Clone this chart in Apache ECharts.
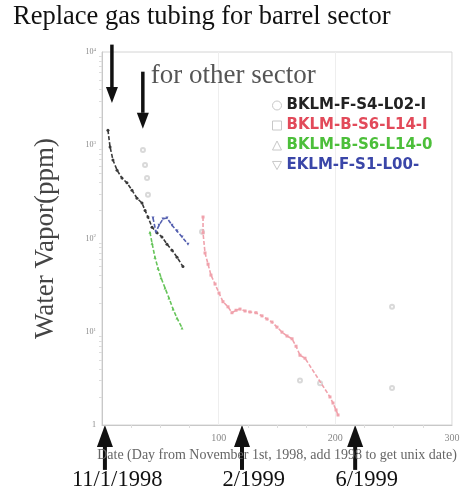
<!DOCTYPE html>
<html><head><meta charset="utf-8">
<script src="https://cdn.jsdelivr.net/npm/echarts@6/dist/echarts.min.js"></script>
<style>html,body{margin:0;padding:0;background:#fff}#c{width:464px;height:494px}</style>
</head><body><div id="c"></div>
<script>
// Data: [day from Nov 1 1998, water vapor ppm]
const seriesNames = ['BKLM-F-S4-L02-I', 'BKLM-B-S6-L14-I', 'BKLM-B-S6-L14-0', 'EKLM-F-S1-L00-'];
const blackF_S4 = [[5.1,1450],[6.9,960],[9.4,695],[12.9,540],[17.1,445],[21.4,395],[25.7,330],[30,270],[34.3,240],[36.9,200],[39.4,170],[42.9,132],[47.1,115],[51.4,104],[55.7,87],[60,75],[64.3,63],[69.4,50]];
const redB_S6_I = [[86.6,170],[86.6,115],[88.3,70],[90.9,53],[93.4,40.5],[96.9,32.5],[100.3,26],[103.7,21],[108,18.5],[111.4,16],[114.9,17],[118.3,17.5],[122.6,16.7],[126.9,16.3],[132,16],[137.1,14.8],[141.4,13.7],[145.7,12.7],[150,11.2],[154.3,9.9],[158.6,9.0],[162.9,8.4],[166.3,7.0],[169.7,5.6],[174,5.2],[195.4,2.0],[198,1.72],[200.6,1.45],[202.3,1.28]];
const greenB_S6_0 = [[41.1,117],[42.9,89],[45.4,63],[48,48],[50.6,38],[54,29.5],[57.4,23],[60.9,17.5],[64.3,14],[68.6,11]];
const blueE_S1 = [[43.7,166],[46.3,117],[48.9,139],[52.3,162],[55.7,166],[60,139],[64.3,120],[68.6,104],[73.7,87]];
const otherPoints = [[35.1,890],[36.9,615],[38.6,445],[39.4,295],[85.7,118],[169.7,3.0],[186.9,2.8],[248.6,18.5],[248.6,2.5]];
const xTicks = [0, 100, 200, 300];
const yTicks = [1, 10, 100, 1000, 10000];
// annotation arrows: [day, fromValue, toValue]
const topArrows = [[8.5, 12000, 2830], [35, 6150, 1500]];
const bottomArrows = [[2.5, 0.33, 1.0], [120, 0.33, 1.0], [217, 0.33, 1.0]];
const bottomLabels = [['11/1/1998', 13], ['2/1999', 130], ['6/1999', 227]];

const colors = ['#3a3a3a', '#f0a2ac', '#66c45a', '#5560b0'];
const textColors = ['#222', '#e24a5a', '#4cbf3a', '#3a46a8'];
const symbols = ['circle', 'rect', 'triangle', 'path://M0,0 L10,0 L5,9 Z'];
const dataSets = [blackF_S4, redB_S6_I, greenB_S6_0, blueE_S1];

const chart = echarts.init(document.getElementById('c'));
const option = {
  animation: false,
  backgroundColor: '#fff',
  grid: {left: 102, right: 12, top: 52, bottom: 69, show: true, borderColor: '#d4d4d4', borderWidth: 1},
  xAxis: {
    type: 'value', min: 0, max: 300, interval: 100,
    name: 'Date (Day from November 1st, 1998, add 1998 to get unix date)',
    nameLocation: 'middle', nameGap: 21,
    nameTextStyle: {fontFamily: 'Liberation Serif', fontSize: 14, color: '#666'},
    axisLine: {lineStyle: {color: '#c8c8c8'}},
    axisTick: {show: false},
    minorTick: {show: true, splitNumber: 4, length: 3, lineStyle: {color: '#ddd'}},
    splitLine: {show: true, lineStyle: {color: '#eee'}},
    axisLabel: {fontFamily: 'Liberation Serif', fontSize: 10, color: '#888', margin: 8,
      formatter: v => v === 0 ? '' : String(v)}
  },
  yAxis: {
    type: 'log', logBase: 10, min: 1, max: 10000,
    name: 'Water Vapor(ppm)', nameLocation: 'middle', nameGap: 43,
    nameTextStyle: {fontFamily: 'Liberation Serif', fontSize: 27, color: '#444'},
    axisLine: {show: true, lineStyle: {color: '#c8c8c8'}},
    axisTick: {show: false},
    minorTick: {show: true, splitNumber: 9, length: 3, lineStyle: {color: '#ddd'}},
    splitLine: {show: false},
    axisLabel: {fontFamily: 'Liberation Serif', fontSize: 8, color: '#888', margin: 6,
      formatter: v => v <= 1 ? '1' : '10{s|' + Math.round(Math.log10(v)) + '}',
      rich: {s: {fontSize: 5, verticalAlign: 'top', color: '#888', padding: [0,0,5,0]}}}
  },
  legend: {
    orient: 'vertical', left: 267, top: 93, itemGap: 5, itemWidth: 9, itemHeight: 9,
    textStyle: {fontFamily: 'DejaVu Sans', fontWeight: 'bold', fontSize: 15},
    data: seriesNames.map((n, i) => ({name: n, icon: symbols[i],
      itemStyle: {color: 'rgba(0,0,0,0)', borderColor: '#c8c8c8', borderWidth: 1},
      textStyle: {color: textColors[i]}}))
  },
  series: dataSets.map((d, i) => ({
    name: seriesNames[i], type: 'line', data: d,
    symbol: symbols[i], symbolSize: 3, showSymbol: true,
    itemStyle: {color: colors[i]},
    lineStyle: {color: colors[i], width: 1.6, type: [4, 2]}
  })).concat([{
    name: 'other', type: 'scatter', data: otherPoints, symbol: 'emptyCircle', symbolSize: 4,
    itemStyle: {color: '#d0d0d0'}
  }])
};
chart.setOption(option);

const toPx = (x, y) => chart.convertToPixel({gridIndex: 0}, [x, y]);
const g = [];
g.push({type: 'text', left: 13, top: 4, style: {text: 'Replace gas tubing for barrel sector',
  font: '26.5px "Liberation Serif"', fill: '#111'}});
function arrow(x, v0, v1, head, hw, sw) {
  const p0 = toPx(x, v0), p1 = toPx(x, v1);
  const dir = p1[1] > p0[1] ? 1 : -1;
  const base = p1[1] - dir * head;
  g.push({type: 'line', shape: {x1: p0[0], y1: p0[1], x2: p1[0], y2: base}, style: {stroke: '#111', lineWidth: sw}});
  g.push({type: 'polygon', shape: {points: [[p1[0] - hw, base], [p1[0] + hw, base], [p1[0], p1[1]]]}, style: {fill: '#111'}});
}
topArrows.forEach(a => arrow(a[0], a[1], a[2], 16, 6, 3.5));
bottomArrows.forEach(a => arrow(a[0], a[1], a[2], 22, 8, 4));
const op = toPx(35, 6150);
g.push({type: 'text', x: op[0] + 8, y: op[1] + 4, style: {text: 'for other sector', font: '27px "Liberation Serif"', fill: '#555', textVerticalAlign: 'middle'}});
bottomLabels.forEach(l => {
  const p = toPx(l[1], 1);
  g.push({type: 'text', x: p[0], y: 480, style: {text: l[0], font: '22.5px "Liberation Serif"', fill: '#111', textAlign: 'center', textVerticalAlign: 'middle'}});
});
chart.setOption({graphic: g});
</script></body></html>
